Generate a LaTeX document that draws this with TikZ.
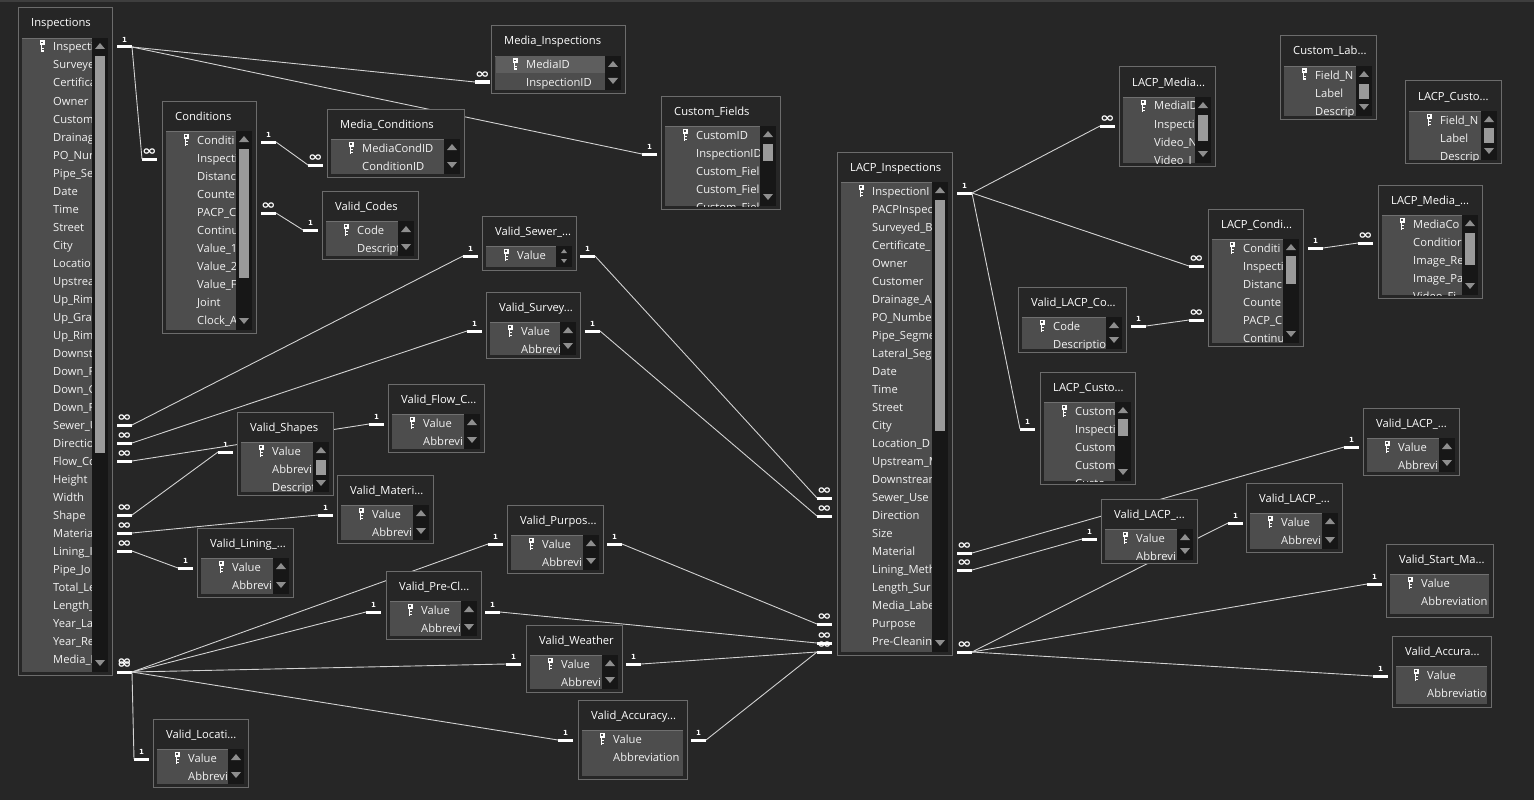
\documentclass[tikz,border=0pt]{standalone}
\usepackage{fontspec}
\setmainfont{Open Sans}
\newfontfamily\cardfont{DejaVu Sans}

\definecolor{canvas}{HTML}{262626}
\definecolor{topline}{HTML}{3E3E3E}
\definecolor{framegray}{HTML}{6C6C6C}
\definecolor{listgray}{HTML}{4D4D4D}
\definecolor{listedge}{HTML}{707070}
\definecolor{rowhi}{HTML}{5E5E5E}
\definecolor{trackgray}{HTML}{171717}
\definecolor{thumbgray}{HTML}{9A9A9A}
\definecolor{arrowgray}{HTML}{8E8E8E}
\definecolor{linegray}{HTML}{D2D2D2}
\definecolor{fieldwhite}{HTML}{F2F2F2}

\tikzset{
  tblframe/.style={draw=framegray, line width=1pt},
  tbltitle/.style={anchor=base west, inner sep=0pt, text=white, font=\fontsize{11.2}{13}\selectfont},
  fieldtext/.style={anchor=base west, inner sep=0pt, text=fieldwhite, font=\fontsize{11.2}{13}\selectfont},
  stub/.style={draw=white, line width=3pt},
  card/.style={inner sep=0pt, text=white, font=\cardfont\bfseries\fontsize{7}{8}\selectfont},
  rel/.style={draw=linegray, line width=0.9pt}
}

\newcommand{\infsym}{\scalebox{2.5}[1.9]{∞}}

% key glyph in front of the primary field
\newcommand{\keyicon}[2]{%
  \fill[white] ({#1-2.5},{#2-6}) rectangle ({#1+2.5},{#2-1});
  \fill[listgray] ({#1-0.8},{#2-4.6}) rectangle ({#1+0.8},{#2-3});
  \fill[white] ({#1-1.5},{#2-1}) rectangle ({#1+0.2},{#2+6});
  \fill[white] ({#1+0.2},{#2+1.5}) rectangle ({#1+1.6},{#2+2.6});
  \fill[white] ({#1+0.2},{#2+4}) rectangle ({#1+1.6},{#2+5.1});
}

% [highlight]{left}{top}{right}{bottom}{title}{fields}{scrollbar width}
\newcommand{\dbtable}[8][0]{%
  \fill[canvas] (#2,#3) rectangle (#4,#5);
  \draw[tblframe] (#2,#3) rectangle (#4,#5);
  \node[tbltitle] at ({#2+13},{#3+19}) {#6};
  \fill[listgray] ({#2+4},{#3+30}) rectangle ({#4-4},{#5-3});
  \draw[listedge] ({#2+4},{#3+30}) -- ({#4-4},{#3+30});
  \ifnum#1=1 \fill[rowhi] ({#2+5},{#3+30.5}) rectangle ({#4-4-#8},{#3+47}); \fi
  \begin{scope}
    \clip ({#2+4},{#3+30}) rectangle ({#4-4-#8},{#5-3});
    \foreach \fld [count=\k from 0] in {#7}
      \node[fieldtext] at ({#2+35},{#3+43+18*\k}) {\fld};
  \end{scope}
  \keyicon{#2+24}{#3+38.5}
}

\newcommand{\scrolltrack}[3]{%
  \fill[trackgray] ({#1-20},{#2+30}) rectangle ({#1-4},{#3-3});
  \fill[arrowgray] ({#1-17},{#2+41}) -- ({#1-7},{#2+41}) -- ({#1-12},{#2+35}) -- cycle;
  \fill[arrowgray] ({#1-17},{#3-15}) -- ({#1-7},{#3-15}) -- ({#1-12},{#3-9}) -- cycle;
}
\newcommand{\scrollthumb}[3]{\fill[thumbgray] ({#1-17},#2) rectangle ({#1-7},#3);}

% {name}{x}{y}{side: 1 = stub to the right, -1 = stub to the left}{label}
\newcommand{\relend}[5]{%
  \coordinate (#1) at (#2,#3);
  \draw[stub] (#1) -- ++({#4*15},0);
  \node[card] (#1-lab) at ({#2+#4*7.5},{#3-7}) {#5};
}

\begin{document}
\begin{tikzpicture}[x=1pt,y=-1pt]
\useasboundingbox (0,0) rectangle (1534,800);
\fill[canvas] (0,0) rectangle (1534,800);
\fill[topline] (0,0) rectangle (1534,2);

% relation ends
\relend{ins-id}{132}{47}{-1}{1}
\relend{ins-sewer}{132}{425}{-1}{\infsym}
\relend{ins-dir}{132}{443}{-1}{\infsym}
\relend{ins-flow}{132}{461}{-1}{\infsym}
\relend{ins-shape}{132}{515}{-1}{\infsym}
\relend{ins-mat}{132}{533}{-1}{\infsym}
\relend{ins-lining}{132}{551}{-1}{\infsym}
\relend{ins-misc}{132}{672}{-1}{\infsym}
\node[card] (ins-misc-lab2) at (124.5,662.5) {\infsym};
\relend{cond-in}{142}{159}{1}{\infsym}
\relend{cond-id}{276}{142}{-1}{1}
\relend{cond-code}{276}{213}{-1}{\infsym}
\relend{mins-in}{475}{82}{1}{\infsym}
\relend{mcond-in}{308}{165}{1}{\infsym}
\relend{codes-in}{303}{230}{1}{1}
\relend{cfld-in}{642}{154}{1}{1}
\relend{sewer-l}{463}{256}{1}{1}
\relend{sewer-r}{595}{256}{-1}{1}
\relend{survey-l}{467}{331}{1}{1}
\relend{survey-r}{600}{331}{-1}{1}
\relend{shapes-l}{218}{452}{1}{1}
\relend{flow-l}{369}{424}{1}{1}
\relend{mat-l}{318}{515}{1}{1}
\relend{lining-l}{178}{568}{1}{1}
\relend{purp-l}{488}{544}{1}{1}
\relend{purp-r}{622}{544}{-1}{1}
\relend{precl-l}{366}{612}{1}{1}
\relend{precl-r}{500}{612}{-1}{1}
\relend{weather-l}{506}{664}{1}{1}
\relend{weather-r}{641}{664}{-1}{1}
\relend{accy-l}{558}{740}{1}{1}
\relend{accy-r}{706}{740}{-1}{1}
\relend{locati-l}{134}{759}{1}{1}
\relend{lacp-sewer}{817}{498}{1}{\infsym}
\relend{lacp-dir}{817}{516}{1}{\infsym}
\relend{lacp-purp}{817}{624}{1}{\infsym}
\relend{lacp-precl}{817}{643}{1}{\infsym}
\relend{lacp-misc}{817}{652}{1}{\infsym}
\relend{lacp-id}{972}{193}{-1}{1}
\relend{lacp-mat}{972}{553}{-1}{\infsym}
\relend{lacp-lining}{972}{570}{-1}{\infsym}
\relend{lacp-more}{972}{652}{-1}{\infsym}
\relend{lmed-in}{1100}{126}{1}{\infsym}
\relend{lcond-in}{1189}{266}{1}{\infsym}
\relend{lcond-code}{1189}{320}{1}{\infsym}
\relend{lcust-in}{1020}{429}{1}{1}
\relend{vlcode-r}{1146}{326}{-1}{1}
\relend{lcond-id}{1323}{248}{-1}{1}
\relend{lmcond-in}{1358}{243}{1}{\infsym}
\relend{vlacp-a}{1344}{447}{1}{1}
\relend{vlacp-b}{1082}{539}{1}{1}
\relend{vlacp-c}{1228}{523}{1}{1}
\relend{start-l}{1367}{584}{1}{1}
\relend{accr-l}{1373}{676}{1}{1}

% relationship lines
\draw[rel] (ins-id) -- (cond-in);
\draw[rel] (ins-id) -- (mins-in);
\draw[rel] (ins-id) -- (cfld-in);
\draw[rel] (cond-id) -- (mcond-in);
\draw[rel] (cond-code) -- (codes-in);
\draw[rel] (ins-sewer) -- (sewer-l);
\draw[rel] (sewer-r) -- (lacp-sewer);
\draw[rel] (ins-dir) -- (survey-l);
\draw[rel] (survey-r) -- (lacp-dir);
\draw[rel] (ins-flow) -- (flow-l);
\draw[rel] (ins-shape) -- (shapes-l);
\draw[rel] (ins-mat) -- (mat-l);
\draw[rel] (ins-lining) -- (lining-l);
\foreach \tgt in {purp-l,precl-l,weather-l,accy-l,locati-l}
  \draw[rel] (ins-misc) -- (\tgt);
\draw[rel] (purp-r) -- (lacp-purp);
\draw[rel] (precl-r) -- (lacp-precl);
\draw[rel] (weather-r) -- (lacp-misc);
\draw[rel] (accy-r) -- (lacp-misc);
\foreach \tgt in {lmed-in,lcond-in,lcust-in}
  \draw[rel] (lacp-id) -- (\tgt);
\draw[rel] (vlcode-r) -- (lcond-code);
\draw[rel] (lcond-id) -- (lmcond-in);
\draw[rel] (lacp-mat) -- (vlacp-a);
\draw[rel] (lacp-lining) -- (vlacp-b);
\foreach \tgt in {vlacp-c,start-l,accr-l}
  \draw[rel] (lacp-more) -- (\tgt);

% tables
\dbtable{18}{8}{112}{675}{Inspections}{Inspecti,Surveye,Certifica,Owner,Custom,Drainag,PO\_Nur,Pipe\_Se,Date,Time,Street,City,Locatio,Upstrea,Up\_Rim,Up\_Gra,Up\_Rim,Downst,Down\_F,Down\_G,Down\_F,Sewer\_U,Directio,Flow\_Co,Height,Width,Shape,Materia,Lining\_I,Pipe\_Jo,Total\_Le,Length\_,Year\_Lai,Year\_Re,Media\_I}{16}
\scrolltrack{112}{8}{675}
\scrollthumb{112}{56}{453}

\dbtable{162}{101}{256}{333}{Conditions}{Conditi,Inspecti,Distanc,Counte,PACP\_C,Continu,Value\_1,Value\_2,Value\_F,Joint,Clock\_A}{16}
\scrolltrack{256}{101}{333}
\scrollthumb{256}{149}{278}

\dbtable[1]{491}{26}{625}{93}{Media\_Inspections}{MediaID,InspectionID}{16}
\scrolltrack{625}{26}{93}

\dbtable{327}{109}{464}{177}{Media\_Conditions}{MediaCondID,ConditionID}{16}
\scrolltrack{464}{109}{177}

\dbtable{322}{191}{418}{259}{Valid\_Codes}{Code,Descript}{16}
\scrolltrack{418}{191}{259}

\dbtable{661}{96}{780}{209}{Custom\_Fields}{CustomID,InspectionID,Custom\_Fiel,Custom\_Fiel,Custom\_Fiel}{16}
\scrolltrack{780}{96}{209}
\scrollthumb{780}{144}{161}

\dbtable{837}{152}{952}{655}{LACP\_Inspections}{InspectionI,PACPInspec,Surveyed\_By,Certificate\_,Owner,Customer,Drainage\_A,PO\_Number,Pipe\_Segme,Lateral\_Seg,Date,Time,Street,City,Location\_D,Upstream\_M,Downstream,Sewer\_Use,Direction,Size,Material,Lining\_Meth,Length\_Sur,Media\_Labe,Purpose,Pre-Cleanin}{16}
\scrolltrack{952}{152}{655}
\scrollthumb{952}{200}{431}

\dbtable{1119}{67}{1215}{166}{LACP\_Media...}{MediaID,Inspecti,Video\_N,Video\_I}{16}
\scrolltrack{1215}{67}{166}
\scrollthumb{1215}{115}{141}

\dbtable{1280}{36}{1376}{119}{Custom\_Lab...}{Field\_N,Label,Descrip}{16}
\scrolltrack{1376}{36}{119}
\scrollthumb{1376}{84}{99}

\dbtable{1405}{81}{1501}{163}{LACP\_Custo...}{Field\_N,Label,Descrip}{16}
\scrolltrack{1501}{81}{163}
\scrollthumb{1501}{128}{143}

\dbtable{1378}{185}{1482}{298}{LACP\_Media\_...}{MediaCo,Conditior,Image\_Re,Image\_Pa,Video\_Fi}{16}
\scrolltrack{1482}{185}{298}
\scrollthumb{1482}{233}{265}

\dbtable{1208}{209}{1303}{346}{LACP\_Condi...}{Conditi,Inspecti,Distanc,Counte,PACP\_C,Continu}{16}
\scrolltrack{1303}{209}{346}
\scrollthumb{1303}{256}{284}

\dbtable{1018}{287}{1126}{352}{Valid\_LACP\_Co...}{Code,Descriptio}{16}
\scrolltrack{1126}{287}{352}

\dbtable{1040}{372}{1135}{484}{LACP\_Custo...}{Custom,Inspecti,Custom,Custom,Custo}{16}
\scrolltrack{1135}{372}{484}
\scrollthumb{1135}{419}{436}

\dbtable{1363}{408}{1459}{475}{Valid\_LACP\_...}{Value,Abbrevi}{16}
\scrolltrack{1459}{408}{475}

\dbtable{1101}{499}{1197}{563}{Valid\_LACP\_...}{Value,Abbrevi}{16}
\scrolltrack{1197}{499}{563}

\dbtable{1246}{483}{1342}{552}{Valid\_LACP\_...}{Value,Abbrevi}{16}
\scrolltrack{1342}{483}{552}

\dbtable{1386}{544}{1493}{617}{Valid\_Start\_Ma...}{Value,Abbreviation}{0}

\dbtable{1392}{636}{1491}{707}{Valid\_Accura...}{Value,Abbreviatio}{0}

\dbtable{482}{216}{576}{270}{Valid\_Sewer\_...}{Value}{16}
\fill[trackgray] (556,246) rectangle (572,267);
\fill[arrowgray] (561,253) -- (567,253) -- (564,249) -- cycle;
\fill[arrowgray] (561,259) -- (567,259) -- (564,263) -- cycle;

\dbtable{486}{292}{580}{358}{Valid\_Survey...}{Value,Abbrevi}{16}
\scrolltrack{580}{292}{358}

\dbtable{237}{412}{333}{495}{Valid\_Shapes}{Value,Abbrevi,Descript}{16}
\scrolltrack{333}{412}{495}
\scrollthumb{333}{460}{475}

\dbtable{388}{384}{484}{452}{Valid\_Flow\_C...}{Value,Abbrevi}{16}
\scrolltrack{484}{384}{452}

\dbtable{337}{475}{433}{543}{Valid\_Materi...}{Value,Abbrevi}{16}
\scrolltrack{433}{475}{543}

\dbtable{197}{528}{293}{597}{Valid\_Lining\_...}{Value,Abbrevi}{16}
\scrolltrack{293}{528}{597}

\dbtable{507}{505}{603}{573}{Valid\_Purpos...}{Value,Abbrevi}{16}
\scrolltrack{603}{505}{573}

\dbtable{386}{571}{481}{639}{Valid\_Pre-Cl...}{Value,Abbrevi}{16}
\scrolltrack{481}{571}{639}

\dbtable{526}{625}{622}{692}{Valid\_Weather}{Value,Abbrevi}{16}
\scrolltrack{622}{625}{692}

\dbtable{578}{700}{687}{779}{Valid\_Accuracy...}{Value,Abbreviation}{0}

\dbtable{153}{719}{248}{787}{Valid\_Locati...}{Value,Abbrevi}{16}
\scrolltrack{248}{719}{787}
\end{tikzpicture}
\end{document}
